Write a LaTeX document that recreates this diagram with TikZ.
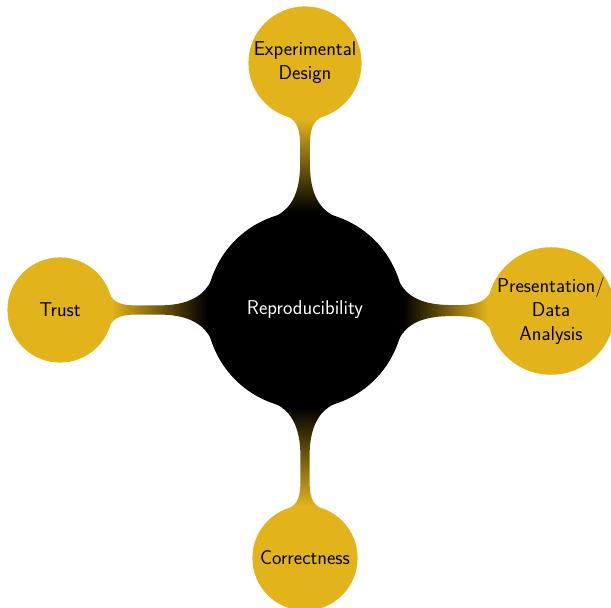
\documentclass[tikz,border=0pt]{standalone}
\usetikzlibrary{mindmap}
\definecolor{mmgold}{RGB}{226,179,26}
\begin{document}
\begin{tikzpicture}[x=1pt,y=1pt,
  mmtext/.style={font=\sffamily\fontsize{20}{24}\selectfont},
  rootconcept/.style={concept, concept color=black, text=white, minimum size=196pt, inner sep=0pt, text width=, align=center, mmtext},
  leafconcept/.style={concept, concept color=mmgold, text=black, inner sep=0pt, text width=, align=center, mmtext},
  mmbar/.style={circle connection bar switch color=from (black) to (mmgold), line width=10pt}
]
\useasboundingbox (0,0) rectangle (611,608);
\begin{scope}[mindmap]
\node[rootconcept] (root) at (305,298) {Reproducibility};
\node[leafconcept, minimum size=112pt] (exp) at (305,545) {Experimental\\Design};
\node[leafconcept, minimum size=104pt] (trust) at (60,298) {Trust};
\node[leafconcept, minimum size=122pt] (pres) at (551,297) {Presentation/\\Data\\Analysis};
\node[leafconcept, minimum size=104pt] (corr) at (305,50) {Correctness};
\path (root) to[mmbar] (exp);
\path (root) to[mmbar] (trust);
\path (root) to[mmbar] (pres);
\path (root) to[mmbar] (corr);
\end{scope}
\end{tikzpicture}
\end{document}
